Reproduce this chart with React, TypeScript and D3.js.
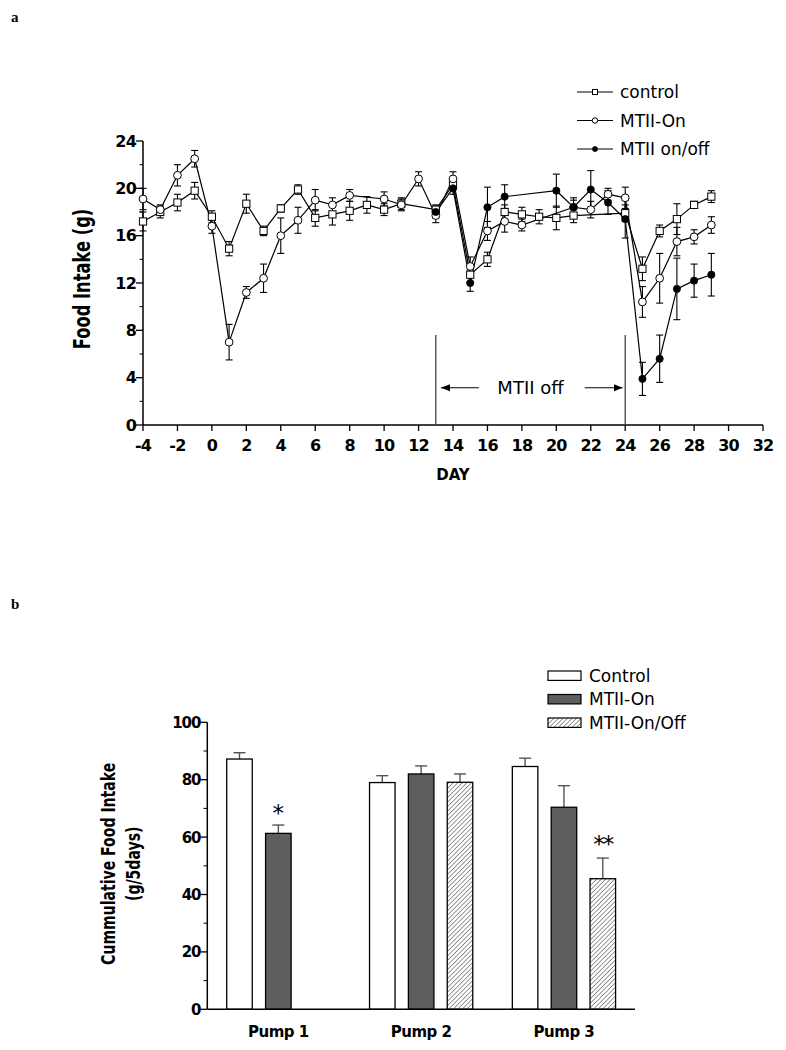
import React from 'react';
import * as d3 from 'd3';

// ---------- Panel a data ----------
const days = d3.range(-4, 30);
const controlMean = [17.2,18.0,18.8,19.8,17.6,14.9,18.7,16.4,18.3,19.9,17.5,17.8,18.1,18.6,18.2,18.7,null,18.2,20.3,12.7,14.0,18.0,17.8,17.6,17.5,17.7,null,null,17.9,13.2,16.4,17.4,18.6,19.3];
const controlSem = [0.8,0.5,0.7,0.7,0.5,0.6,0.8,0.4,0.3,0.4,0.7,0.9,0.8,0.7,0.5,0.5,null,0.4,0.4,0.6,0.6,0.6,0.6,0.6,1.0,0.6,null,null,0.7,1.0,0.5,1.3,0.3,0.5];
const onMean = [19.1,18.2,21.1,22.5,16.8,7.0,11.2,12.4,16.0,17.3,19.0,18.6,19.4,null,19.1,18.6,20.8,17.7,20.8,13.4,16.4,17.2,16.9,null,null,18.4,18.2,19.5,19.2,10.4,12.4,15.5,15.9,16.9];
const onSem = [0.9,0.4,0.9,0.7,0.6,1.5,0.5,1.2,1.5,1.1,0.9,0.6,0.5,null,0.6,0.5,0.6,0.6,0.6,0.8,0.8,0.9,0.5,null,null,0.6,0.7,0.5,0.9,1.3,2.1,1.2,0.6,0.7];
const onOffMean = [null,null,null,null,null,null,null,null,null,null,null,null,null,null,null,null,null,18.0,20.0,12.0,18.4,19.3,null,null,19.8,18.4,19.9,18.8,17.4,3.9,5.6,11.5,12.2,12.7];
const onOffSem = [null,null,null,null,null,null,null,null,null,null,null,null,null,null,null,null,null,0.5,0.5,0.7,1.7,1.0,null,null,1.4,0.8,1.6,1.0,1.6,1.4,2.0,2.6,1.4,1.8];
const yTicksA = [0, 4, 8, 12, 16, 20, 24];
const yMinorA = [2, 6, 10, 14, 18, 22];
const xTicksA = d3.range(-4, 33, 2);
const legendA = ['control', 'MTII-On', 'MTII on/off'];

// ---------- Panel b data ----------
const pumps = ['Pump 1', 'Pump 2', 'Pump 3'];
const groupsB = ['Control', 'MTII-On', 'MTII-On/Off'];
const barControl = [87.2, 79.0, 84.6];
const barControlErr = [2.2, 2.4, 2.9];
const barOn = [61.3, 82.0, 70.4];
const barOnErr = [2.9, 2.8, 7.5];
const barOnOff = [null, 79.1, 45.5];
const barOnOffErr = [null, 2.9, 7.2];
const yTicksB = [0, 20, 40, 60, 80, 100];
const yMinorB = [10, 30, 50, 70, 90];

const FONT = '"DejaVu Sans", Verdana, sans-serif';

type Pt = { d: number; m: number; s: number };
function toPts(mean: (number | null)[], sem: (number | null)[]): Pt[] {
  const out: Pt[] = [];
  days.forEach((d, i) => {
    const m = mean[i];
    if (m != null) out.push({ d, m, s: sem[i] ?? 0 });
  });
  return out;
}

export default function App() {
  // Panel a scales
  const x = d3.scaleLinear().domain([-4, 32]).range([143, 763]);
  const y = d3.scaleLinear().domain([0, 24]).range([425, 141]);
  const line = d3.line<Pt>().x(p => x(p.d)).y(p => y(p.m));

  const series = [
    { key: 'control', pts: toPts(controlMean, controlSem), marker: 'square' },
    { key: 'on', pts: toPts(onMean, onSem), marker: 'circle' },
    { key: 'onoff', pts: toPts(onOffMean, onOffSem), marker: 'dot' },
  ];

  const marker = (type: string, cx: number, cy: number, k: string, scale = 1) => {
    if (type === 'square') {
      const h = 3.6 * scale;
      return <rect key={k} x={cx - h} y={cy - h} width={2 * h} height={2 * h} fill="#fff" stroke="#000" strokeWidth={1} />;
    }
    if (type === 'circle') {
      return <circle key={k} cx={cx} cy={cy} r={3.9 * scale} fill="#fff" stroke="#000" strokeWidth={1} />;
    }
    return <circle key={k} cx={cx} cy={cy} r={3.6 * scale} fill="#000" stroke="#000" strokeWidth={0.8} />;
  };

  // Panel b scales
  const yb = d3.scaleLinear().domain([0, 100]).range([1009.3, 722.3]);
  const xg = d3.scaleBand<string>().domain(pumps).range([207.3, 635]).paddingInner(0.277).paddingOuter(0.136);
  const xs = d3.scaleBand<string>().domain(groupsB).range([0, xg.bandwidth()]).paddingInner(0.343);
  const barSeries = [
    { g: 'Control', vals: barControl, errs: barControlErr, fill: '#fff' },
    { g: 'MTII-On', vals: barOn, errs: barOnErr, fill: '#5e5e5e' },
    { g: 'MTII-On/Off', vals: barOnOff, errs: barOnOffErr, fill: 'url(#hatch)' },
  ];

  const axisA0 = y(0);
  const annTop = y(7.6);
  const arrowY = y(3.15);
  const midB = (yb(100) + yb(0)) / 2 - 2;

  return (
    <svg width={786} height={1050} style={{ position: 'absolute', left: 0, top: 0, background: '#fff' }}>
      <defs>
        <pattern id="hatch" patternUnits="userSpaceOnUse" width={3.2} height={3.2} patternTransform="rotate(45)">
          <rect width={3.2} height={3.2} fill="#fff" />
          <line x1={0} y1={0} x2={0} y2={3.2} stroke="#444" strokeWidth={1.1} />
        </pattern>
        <marker id="arrowHead" viewBox="0 0 10 10" refX={10} refY={5} markerWidth={9} markerHeight={9} orient="auto-start-reverse" markerUnits="userSpaceOnUse">
          <path d="M0,1 L10,5 L0,9 Z" fill="#000" />
        </marker>
      </defs>

      {/* panel labels */}
      <text x={11} y={22} fontFamily='"Liberation Serif", "Times New Roman", serif' fontWeight="bold" fontSize={15}>a</text>
      <text x={11} y={609} fontFamily='"Liberation Serif", "Times New Roman", serif' fontWeight="bold" fontSize={15}>b</text>

      {/* ===== Panel a ===== */}
      <line x1={x(-4)} x2={x(-4)} y1={y(24)} y2={axisA0} stroke="#000" strokeWidth={1.5} />
      <line x1={x(-4)} x2={x(32)} y1={axisA0} y2={axisA0} stroke="#000" strokeWidth={1.5} />
      {yTicksA.map(t => (
        <g key={'ya' + t}>
          <line x1={x(-4) - 7} x2={x(-4)} y1={y(t)} y2={y(t)} stroke="#000" strokeWidth={1.3} />
          <text x={x(-4) - 7} y={y(t)} dy="0.36em" textAnchor="end" fontFamily={FONT} fontWeight="bold" fontSize={16} letterSpacing={-0.8}>{t}</text>
        </g>
      ))}
      {yMinorA.map(t => (
        <line key={'yam' + t} x1={x(-4) - 3.5} x2={x(-4)} y1={y(t)} y2={y(t)} stroke="#000" strokeWidth={1} />
      ))}
      {xTicksA.map(t => (
        <g key={'xa' + t}>
          <line x1={x(t)} x2={x(t)} y1={axisA0} y2={axisA0 + 6} stroke="#000" strokeWidth={1.3} />
          <text x={x(t)} y={axisA0 + 26} textAnchor="middle" fontFamily={FONT} fontWeight="bold" fontSize={16} letterSpacing={-0.8}>{t}</text>
        </g>
      ))}
      <text x={453} y={480} textAnchor="middle" fontFamily={FONT} fontWeight="bold" fontSize={15}>DAY</text>
      <text transform={`translate(90,${(y(24) + axisA0) / 2 - 4}) rotate(-90) scale(0.71,1)`} textAnchor="middle" fontFamily={FONT} fontWeight="bold" fontSize={23}>Food Intake (g)</text>

      {/* annotation */}
      <line x1={x(13)} x2={x(13)} y1={annTop} y2={axisA0} stroke="#444" strokeWidth={1.3} />
      <line x1={x(24)} x2={x(24)} y1={annTop} y2={axisA0} stroke="#444" strokeWidth={1.3} />
      <line x1={x(15.5)} x2={x(13.3)} y1={arrowY} y2={arrowY} stroke="#000" strokeWidth={1.2} markerEnd="url(#arrowHead)" />
      <line x1={x(21.65)} x2={x(23.85)} y1={arrowY} y2={arrowY} stroke="#000" strokeWidth={1.2} markerEnd="url(#arrowHead)" />
      <text x={x(18.5)} y={arrowY} dy="0.36em" textAnchor="middle" fontFamily={FONT} fontSize={18}>MTII off</text>

      {/* series lines */}
      {series.map(s => (
        <path key={'l' + s.key} d={line(s.pts) || ''} fill="none" stroke="#000" strokeWidth={1.2} />
      ))}
      {/* error bars */}
      {series.map(s => (
        <g key={'e' + s.key}>
          {s.pts.map((p, i) => (
            <g key={i} stroke="#000" strokeWidth={1.1}>
              <line x1={x(p.d)} x2={x(p.d)} y1={y(p.m + p.s)} y2={y(p.m - p.s)} />
              <line x1={x(p.d) - 3.5} x2={x(p.d) + 3.5} y1={y(p.m + p.s)} y2={y(p.m + p.s)} />
              <line x1={x(p.d) - 3.5} x2={x(p.d) + 3.5} y1={y(p.m - p.s)} y2={y(p.m - p.s)} />
            </g>
          ))}
        </g>
      ))}
      {/* markers */}
      {series.map(s => (
        <g key={'m' + s.key}>
          {s.pts.map((p, i) => marker(s.marker, x(p.d), y(p.m), s.key + i))}
        </g>
      ))}

      {/* legend a */}
      {legendA.map((name, i) => {
        const ly = 92 + i * 28.5;
        return (
          <g key={'lga' + i}>
            <line x1={577} x2={613} y1={ly} y2={ly} stroke="#000" strokeWidth={1.2} />
            {marker(series[i].marker, 595, ly, 'lgm' + i, 0.7)}
            <text x={620} y={ly} dy="0.36em" fontFamily={FONT} fontSize={17}>{name}</text>
          </g>
        );
      })}

      {/* ===== Panel b ===== */}
      {barSeries.map(bs => (
        <g key={'b' + bs.g}>
          {pumps.map((p, i) => {
            const v = bs.vals[i];
            if (v == null) return null;
            const e = bs.errs[i] ?? 0;
            const bx = (xg(p) ?? 0) + (xs(bs.g) ?? 0);
            const bw = xs.bandwidth();
            const cx = bx + bw / 2;
            return (
              <g key={p}>
                <line x1={cx} x2={cx} y1={yb(v)} y2={yb(v + e)} stroke="#555" strokeWidth={1.4} />
                <line x1={cx - 6} x2={cx + 6} y1={yb(v + e)} y2={yb(v + e)} stroke="#555" strokeWidth={1.4} />
                <rect x={bx} y={yb(v)} width={bw} height={yb(0) - yb(v)} fill={bs.fill} stroke="#000" strokeWidth={1.3} />
              </g>
            );
          })}
        </g>
      ))}
      {/* significance */}
      <text x={(xg('Pump 1') ?? 0) + (xs('MTII-On') ?? 0) + xs.bandwidth() / 2} y={yb(70)} dy="0.55em" textAnchor="middle" fontFamily={FONT} fontSize={23}>*</text>
      <text x={(xg('Pump 3') ?? 0) + (xs('MTII-On/Off') ?? 0) + xs.bandwidth() / 2} y={yb(59.1)} dy="0.55em" textAnchor="middle" fontFamily={FONT} fontSize={23} letterSpacing={-2}>**</text>

      {/* axes b */}
      <line x1={207.3} x2={207.3} y1={yb(100)} y2={yb(0)} stroke="#000" strokeWidth={1.5} />
      <line x1={207.3} x2={635} y1={yb(0)} y2={yb(0)} stroke="#000" strokeWidth={1.5} />
      {yTicksB.map(t => (
        <g key={'yb' + t}>
          <line x1={200.5} x2={207.3} y1={yb(t)} y2={yb(t)} stroke="#000" strokeWidth={1.3} />
          <text x={200.5} y={yb(t)} dy="0.36em" textAnchor="end" fontFamily={FONT} fontWeight="bold" fontSize={15} letterSpacing={-1}>{t}</text>
        </g>
      ))}
      {yMinorB.map(t => (
        <line key={'ybm' + t} x1={203.5} x2={207.3} y1={yb(t)} y2={yb(t)} stroke="#000" strokeWidth={1} />
      ))}
      {pumps.map(p => (
        <text key={'pl' + p} x={(xg(p) ?? 0) + xg.bandwidth() / 2} y={1037} textAnchor="middle" fontFamily={FONT} fontWeight="bold" fontSize={15} letterSpacing={-0.5}>{p}</text>
      ))}
      <text transform={`translate(115,${midB}) rotate(-90) scale(0.74,1)`} textAnchor="middle" fontFamily={FONT} fontWeight="bold" fontSize={19}>Cummulative Food Intake</text>
      <text transform={`translate(140,${midB}) rotate(-90) scale(0.74,1)`} textAnchor="middle" fontFamily={FONT} fontWeight="bold" fontSize={19}>(g/5days)</text>

      {/* legend b */}
      {barSeries.map((bs, i) => {
        const ly = 675.7 + i * 23.5;
        return (
          <g key={'lgb' + i}>
            <rect x={548} y={ly - 4.7} width={33} height={9.4} fill={bs.fill} stroke="#000" strokeWidth={1.2} />
            <text x={589} y={ly} dy="0.36em" fontFamily={FONT} fontSize={17}>{groupsB[i]}</text>
          </g>
        );
      })}
    </svg>
  );
}
